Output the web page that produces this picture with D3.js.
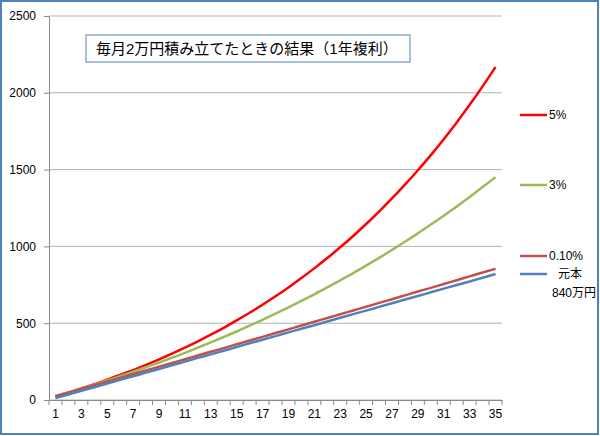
<!DOCTYPE html><html><head><meta charset="utf-8"><script src="https://cdn.jsdelivr.net/npm/d3@7"></script>
<style>body{margin:0;background:#fff}text{font-family:"Liberation Sans","Noto Sans CJK JP",sans-serif}</style></head><body><svg id="c" width="600" height="436"></svg><script>
const years=d3.range(1,36);
const yTicks=[0,500,1000,1500,2000,2500];
const s5=[24,49,76,103,133,164,195,229,265,302,341,382,425,470,518,568,620,675,733,794,857,924,994,1068,1146,1227,1312,1402,1496,1594,1698,1807,1922,2042,2168];
const s3=[24,49,74,100,127,155,184,213,244,275,307,341,375,410,446,484,522,562,603,645,688,733,779,826,875,925,977,1030,1085,1142,1200,1260,1322,1386,1451];
const s01=[24,48,72,96,120,144,169,193,217,241,265,290,314,338,363,387,411,436,460,485,509,534,558,583,607,632,656,681,706,730,755,780,805,830,854];
const sP=[12,36,60,83,107,131,155,178,202,226,250,274,297,321,345,369,392,416,440,464,487,511,535,559,582,606,630,654,677,701,725,749,772,796,820];
const series=[{n:"5%",v:s5,c:"#FF0000",ly:115},{n:"3%",v:s3,c:"#9BBB59",ly:185},{n:"0.10%",v:s01,c:"#C0504D",ly:256},{n:"元本",v:sP,c:"#4F81BD",ly:274}];
const svg=d3.select("#c");
svg.append("rect").attr("x",1).attr("y",1).attr("width",597).attr("height",433).attr("fill","#fff").attr("stroke","#4F81BD").attr("stroke-width",2);
const L=49,R=502,T=16,B=400;
const x=d3.scaleBand().domain(years).range([L,R]);
const y=d3.scaleLinear().domain([0,2500]).range([B,T]);
svg.append("g").selectAll("line").data(yTicks).join("line").attr("x1",L).attr("x2",R).attr("y1",d=>y(d)).attr("y2",d=>y(d)).attr("stroke","#b3b3b3");
const ya=svg.append("g").attr("transform",`translate(${L},0)`).call(d3.axisLeft(y).tickValues(yTicks).tickFormat(d3.format("d")).tickSize(5).tickPadding(8));
ya.select(".domain").attr("stroke","#888");ya.selectAll(".tick line").attr("stroke","#888");
ya.selectAll("text").attr("font-size",12).attr("fill","#000");
const xa=svg.append("g").attr("transform",`translate(0,${B})`).call(d3.axisBottom(x).tickValues(years.filter(d=>d%2==1)).tickSize(0).tickPadding(9));
xa.select(".domain").attr("stroke","#888");xa.selectAll("text").attr("font-size",12).attr("fill","#000");
svg.append("g").selectAll("line").data(d3.range(36)).join("line").attr("x1",i=>L+i*x.step()).attr("x2",i=>L+i*x.step()).attr("y1",B).attr("y2",B+5).attr("stroke","#888");
const line=d3.line().x((d,i)=>x(years[i])+x.bandwidth()/2).y(d=>y(d)).curve(d3.curveMonotoneX);
series.forEach(s=>{
svg.append("path").attr("d",line(s.v)).attr("fill","none").attr("stroke",s.c).attr("stroke-width",2.5);
svg.append("line").attr("x1",520).attr("x2",547).attr("y1",s.ly).attr("y2",s.ly).attr("stroke",s.c).attr("stroke-width",2.5);
svg.append("text").attr("x",s.n=="元本"?558:549).attr("y",s.ly+4).attr("font-size",12).text(s.n);
});
svg.append("text").attr("x",552).attr("y",297).attr("font-size",12).text("840万円");
svg.append("rect").attr("x",86).attr("y",35).attr("width",324).attr("height",27).attr("fill","#fff").attr("stroke","#4F81BD");
svg.append("text").attr("x",96).attr("y",54).attr("font-size",15).text("毎月2万円積み立てたときの結果（1年複利）");
</script></body></html>
